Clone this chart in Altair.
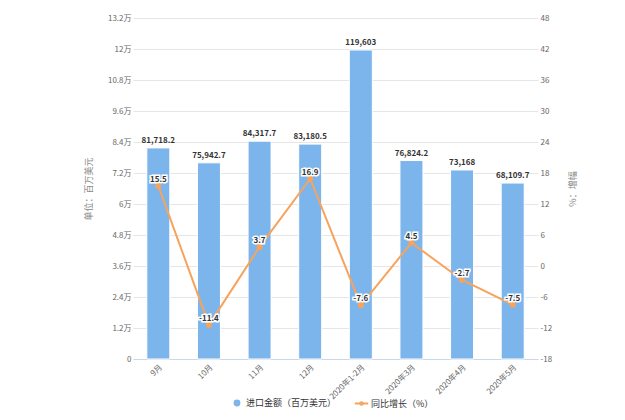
import altair as alt
import pandas as pd

categories = ['9月', '10月', '11月', '12月', '2020年1-2月', '2020年3月', '2020年4月', '2020年5月']
import_values = [81718.2, 75942.7, 84317.7, 83180.5, 119603, 76824.2, 73168, 68109.7]
growth_values = [15.5, -11.4, 3.7, 16.9, -7.6, 4.5, -2.7, -7.5]
left_ticks = [0, 12000, 24000, 36000, 48000, 60000, 72000, 84000, 96000, 108000, 120000, 132000]
right_ticks = [-18, -12, -6, 0, 6, 12, 18, 24, 30, 36, 42, 48]

bar_name = '进口金额（百万美元）'
line_name = '同比增长（%）'
BLUE = '#7cb5ec'
ORANGE = '#f7a35c'
FONT = 'Noto Sans CJK SC'

df = pd.DataFrame({
    'cat': categories,
    'val': import_values,
    'g': growth_values,
    'glabel': [str(v) for v in growth_values],
    's1': [bar_name] * len(categories),
    's2': [line_name] * len(categories),
})

xaxis = alt.Axis(labelAngle=-45, labelAlign='right', labelBaseline='top',
                 labelFontSize=8, labelColor='#666', labelFont=FONT,
                 domainColor='#ccd6eb', ticks=False, labelPadding=4,
                 labelOverlap=False)
xenc = alt.X('cat:N', sort=categories, title=None,
             scale=alt.Scale(paddingInner=0, paddingOuter=0), axis=xaxis)

laxis = alt.Axis(values=left_ticks, tickCount=12, grid=True, gridColor='#e6e6e6',
                 domain=False, ticks=False, labelFontSize=8, labelColor='#666',
                 labelFont=FONT, titleFont=FONT, titleFontSize=9,
                 titleFontWeight='normal', titleColor='#888', titlePadding=14,
                 labelOverlap=False, labelBound=False,
                 labelExpr="datum.value == 0 ? '0' : format(datum.value/10000, '~') + '万'")
lscale = alt.Scale(domain=[0, 132000], nice=False, zero=True)
yleft = alt.Y('val:Q', title='单位：百万美元', scale=lscale, axis=laxis)

raxis = alt.Axis(orient='right', values=right_ticks, tickCount=12, grid=False,
                 domain=False, ticks=False, labelFontSize=8, labelColor='#666',
                 labelFont=FONT, titleFont=FONT, titleFontSize=9,
                 titleFontWeight='normal', titleColor='#888', titleAngle=-90,
                 titlePadding=26, labelOverlap=False, labelBound=False,
                 labelExpr="'' + datum.value")
rscale = alt.Scale(domain=[-18, 48], nice=False, zero=False)
yright = alt.Y('g:Q', title='%：增幅', scale=rscale, axis=raxis)

bars = alt.Chart(df).mark_bar(size=23, stroke='white', strokeWidth=1).encode(
    x=xenc,
    y=yleft,
    color=alt.Color('s1:N', scale=alt.Scale(domain=[bar_name], range=[BLUE]),
                    legend=alt.Legend(title=None, orient='none', legendX=99, legendY=380,
                                      symbolType='circle', symbolSize=70,
                                      labelFontSize=9, labelColor='#333', labelFont=FONT)),
)

bar_labels = alt.Chart(df).mark_text(dy=-7, fontSize=8, fontWeight='bold', color='#333',
                                     font=FONT).encode(
    x=xenc,
    y=yleft,
    text=alt.Text('val:Q', format=','),
)

bar_layer = alt.layer(bars, bar_labels)

legend_path = ('M-1.6,0 L-0.45,0 M0.45,0 L1.6,0 '
               'M0.3,0 A0.3,0.3 0 1,1 -0.3,0 A0.3,0.3 0 1,1 0.3,0')

line = alt.Chart(df).mark_line(strokeWidth=2).encode(
    x=xenc,
    y=yright,
    stroke=alt.Stroke('s2:N', scale=alt.Scale(domain=[line_name], range=[ORANGE]),
                      legend=alt.Legend(title=None, orient='none', legendX=223, legendY=380,
                                        symbolType=legend_path, symbolSize=70,
                                        symbolStrokeWidth=2,
                                        labelFontSize=9, labelColor='#333', labelFont=FONT)),
)

points = alt.Chart(df).mark_point(filled=True, size=36, color=ORANGE, opacity=1).encode(
    x=xenc,
    y=yright,
)

halo = alt.Chart(df).mark_text(dy=-6, fontSize=8, fontWeight='bold', font=FONT,
                               stroke='white', strokeWidth=3, color='white').encode(
    x=xenc,
    y=yright,
    text=alt.Text('glabel:N'),
)
line_labels = alt.Chart(df).mark_text(dy=-6, fontSize=8, fontWeight='bold', font=FONT,
                                      color='#333').encode(
    x=xenc,
    y=yright,
    text=alt.Text('glabel:N'),
)

line_layer = alt.layer(line, points, halo, line_labels)

chart = alt.layer(bar_layer, line_layer).resolve_scale(
    y='independent', color='independent', stroke='independent'
).properties(
    width=405, height=341,
    autosize=alt.AutoSizeParams(type='none'),
    padding={'left': 125, 'top': 10, 'right': 79, 'bottom': 53},
    background='white',
).configure_view(stroke=None)

chart.save('out.html', embed_options={'renderer': 'svg', 'actions': False})
